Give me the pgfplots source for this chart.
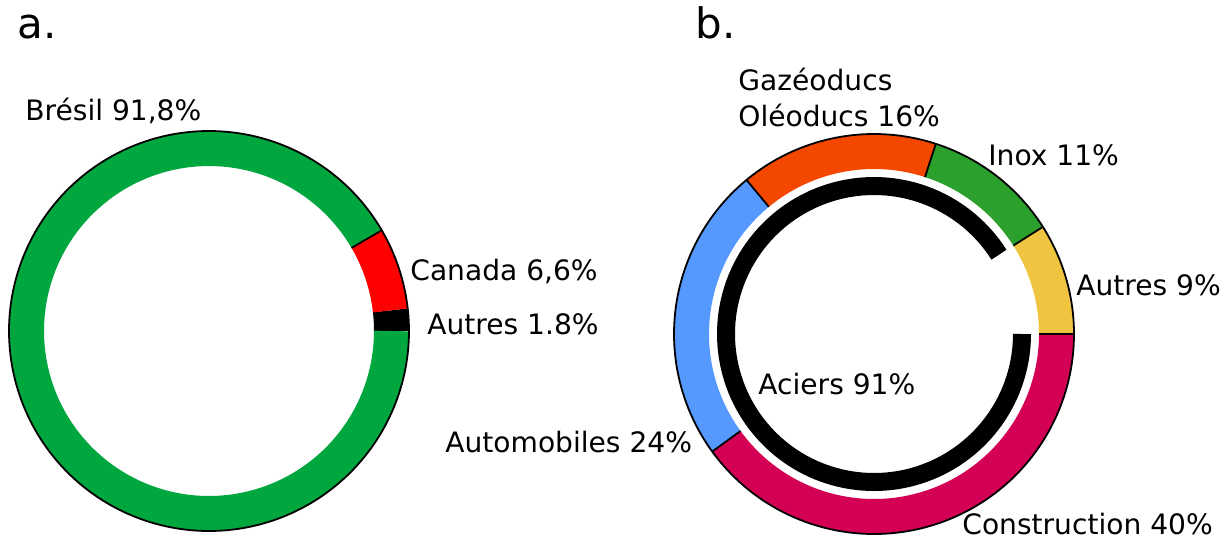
\documentclass[border=0pt]{standalone}
\usepackage{fontspec}
\setmainfont{DejaVu Sans}
\usepackage{pgfplots}
\pgfplotsset{compat=1.18}
\usepgfplotslibrary{polar}

\definecolor{bresil}{HTML}{00A63E}
\definecolor{canada}{HTML}{FF0000}
\definecolor{constr}{HTML}{D40055}
\definecolor{auto}{HTML}{5599FF}
\definecolor{gaz}{HTML}{F44800}
\definecolor{inox}{HTML}{2CA02C}
\definecolor{autres}{HTML}{EEC440}

% donut: radius 200 units = 100pt
\pgfplotsset{donut/.style={hide axis, scale only axis, width=200pt, height=200pt,
    xmin=0, xmax=360, ymin=0, ymax=200, clip=false, samples=150, anchor=origin},
  ring/.style={line width=17.5pt, draw=#1},
  sep/.style={black, line width=0.9pt}}

\begin{document}
\begin{tikzpicture}
\begin{scope}[x=0.5pt,y=-0.5pt]
  \path[use as bounding box] (0,0) rectangle (1230,541);
\end{scope}

% a. shares in percent: Autres 1.8, Canada 6.6, Bresil 91.8 (counterclockwise from east)
\begin{polaraxis}[donut, at={(104.5pt,-165.5pt)}]
  \addplot[ring=black, domain=0:3.6*1.8] {182.5};
  \addplot[ring=canada, domain=3.6*1.8:3.6*(1.8+6.6)] {182.5};
  \addplot[ring=bresil, domain=3.6*(1.8+6.6):360] {182.5};
  \addplot[sep] coordinates {(3.6*(1.8+6.6),165) (3.6*(1.8+6.6),200)};
  \addplot[sep, domain=0:360, samples=240] {200};
\end{polaraxis}

% b. shares in percent, clockwise from east: Construction 40, Automobiles 24,
% Gazeoducs 16, Inox 11, Autres 9; inner ring Aciers 91
\begin{polaraxis}[donut, at={(437pt,-167pt)}]
  \addplot[ring=constr, domain=360-3.6*40:360] {182.5};
  \addplot[ring=auto, domain=360-3.6*(40+24):360-3.6*40] {182.5};
  \addplot[ring=gaz, domain=360-3.6*(40+24+16):360-3.6*(40+24)] {182.5};
  \addplot[ring=inox, domain=360-3.6*(40+24+16+11):360-3.6*(40+24+16)] {182.5};
  \addplot[ring=autres, domain=0:360-3.6*(40+24+16+11)] {182.5};
  \addplot[sep] coordinates {(0,165) (0,200)};
  \addplot[sep] coordinates {(360-3.6*40,165) (360-3.6*40,200)};
  \addplot[sep] coordinates {(360-3.6*(40+24),165) (360-3.6*(40+24),200)};
  \addplot[sep] coordinates {(360-3.6*(40+24+16),165) (360-3.6*(40+24+16),200)};
  \addplot[sep] coordinates {(360-3.6*(40+24+16+11),165) (360-3.6*(40+24+16+11),200)};
  \addplot[sep, domain=0:360, samples=240] {200};
  \addplot[line width=9pt, black, domain=360-3.6*91:360] {148};
\end{polaraxis}

\begin{scope}[x=0.5pt,y=-0.5pt, every node/.style={anchor=base west, inner sep=0pt,
    font=\fontsize{14.05}{16.9}\selectfont}]
  \node[font=\fontsize{21}{25}\selectfont] at (17,38) {a.};
  \node[font=\fontsize{21}{25}\selectfont] at (695,38) {b.};
  \node at (25,120) {Brésil 91,8\%};
  \node at (410,280) {Canada 6,6\%};
  \node at (427,334) {Autres 1.8\%};
  \node at (738,90) {Gazéoducs};
  \node at (738,126) {Oléoducs 16\%};
  \node at (988,165) {Inox 11\%};
  \node at (1076,295) {Autres 9\%};
  \node at (758,394) {Aciers 91\%};
  \node at (445,452) {Automobiles 24\%};
  \node at (962,534) {Construction 40\%};
\end{scope}
\end{tikzpicture}
\end{document}
